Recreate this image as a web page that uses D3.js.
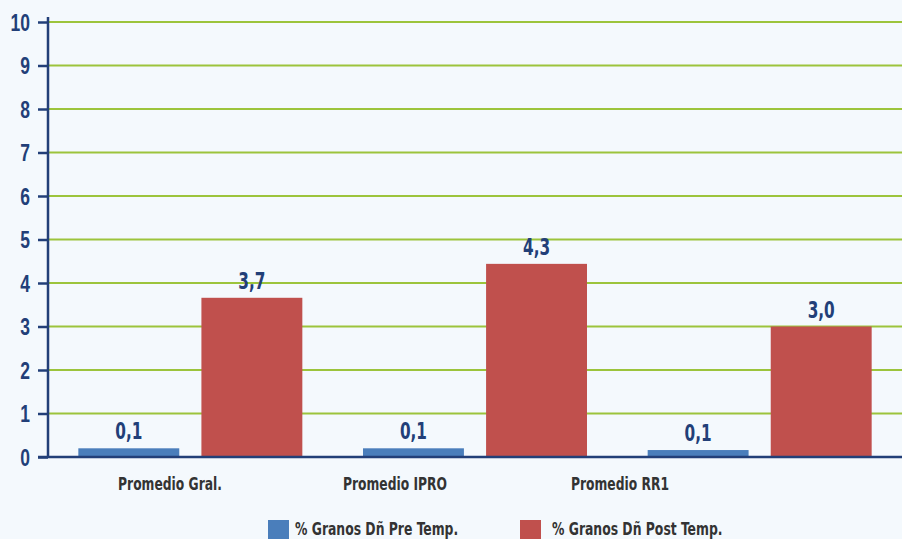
<!DOCTYPE html>
<html>
<head>
<meta charset="utf-8" />
<title>Granos Dñ</title>
<script src="https://d3js.org/d3.v7.min.js"></script>
<style>
	body { margin: 0; background: #f4f9fd; }
	svg { display: block; font-family: 'Liberation Sans Narrow', 'DejaVu Sans Condensed', sans-serif; font-stretch: condensed; font-weight: bold; }
	.ytick text { fill: #223f78; font-size: 23px; }
	.val { fill: #223f78; font-size: 23px; }
	.cat { fill: #333; font-size: 18.5px; }
	.leg { fill: #333; font-size: 18.5px; }
</style>
</head>
<body>
<script>
// data
var categories = ["Promedio Gral.", "Promedio IPRO", "Promedio RR1"];
var series = ["% Granos Dñ Pre Temp.", "% Granos Dñ Post Temp."];
var preValues = [0.2, 0.2, 0.16];
var postValues = [3.66, 4.44, 3.0];
var preLabels = ["0,1", "0,1", "0,1"];
var postLabels = ["3,7", "4,3", "3,0"];
var yTicks = [0, 1, 2, 3, 4, 5, 6, 7, 8, 9, 10];
var colors = ["#4a7ebb", "#c0504d"];

(function() {
var width = 902, height = 539;
var svg = d3.select("body").append("svg")
	.attr("width", width)
	.attr("height", height);

var mLeft = 48, mRight = 902, mTop = 22, mBottom = 457;

var y = d3.scaleLinear().domain([0, 10]).range([mBottom, mTop]);
var x0 = d3.scaleBand().domain(categories).range([mLeft, mRight]);
var x1 = d3.scaleBand().domain(series).range([x0.bandwidth() / 2 - 112, x0.bandwidth() / 2 + 112]).paddingInner(0.18);
// the category labels sit off the bar groups in the original
var xLab = d3.scalePoint().domain(categories).range([170, 620]);

// narrow the glyphs, the original uses a condensed face
function squeeze(sel, k) {
	sel.each(function() {
		var t = d3.select(this);
		var tx = +t.attr("x") || 0, ty = +t.attr("y") || 0;
		t.attr("x", null).attr("y", null)
			.attr("transform", "translate(" + tx + "," + ty + ") scale(" + k + ",1)");
	});
}

// grid
svg.append("g").selectAll("line")
	.data(yTicks.filter(function(d) { return d > 0; }))
	.enter().append("line")
	.attr("x1", mLeft).attr("x2", mRight)
	.attr("y1", function(d) { return y(d); })
	.attr("y2", function(d) { return y(d); })
	.attr("stroke", "#9cc43c")
	.attr("stroke-width", 2.2);

// bars
var rows = categories.map(function(c, i) {
	return { cat: c, vals: [
		{ s: series[0], v: preValues[i], lab: preLabels[i], c: colors[0] },
		{ s: series[1], v: postValues[i], lab: postLabels[i], c: colors[1] }
	] };
});

var grp = svg.append("g").selectAll("g")
	.data(rows).enter().append("g")
	.attr("transform", function(d) { return "translate(" + x0(d.cat) + ",0)"; });

grp.selectAll("rect")
	.data(function(d) { return d.vals; })
	.enter().append("rect")
	.attr("x", function(d) { return x1(d.s); })
	.attr("width", x1.bandwidth())
	.attr("y", function(d) { return y(d.v); })
	.attr("height", function(d) { return mBottom - y(d.v); })
	.attr("fill", function(d) { return d.c; });

grp.selectAll("text")
	.data(function(d) { return d.vals; })
	.enter().append("text")
	.attr("class", "val")
	.attr("text-anchor", "middle")
	.attr("x", function(d) { return x1(d.s) + x1.bandwidth() / 2; })
	.attr("y", function(d) { return y(d.v) - 9; })
	.text(function(d) { return d.lab; })
	.call(squeeze, 0.74);

// y axis
var yAxis = d3.axisLeft(y).tickValues(yTicks).tickSize(10).tickPadding(8).tickFormat(d3.format("d"));
var ag = svg.append("g")
	.attr("class", "ytick")
	.attr("transform", "translate(" + mLeft + ",0)")
	.call(yAxis);
ag.select(".domain").remove();
ag.selectAll(".tick line").attr("stroke", "#223f78").attr("stroke-width", 2.5);
ag.selectAll(".tick text").attr("dy", "0.36em").call(squeeze, 0.76);
svg.append("line")
	.attr("x1", mLeft).attr("x2", mLeft)
	.attr("y1", mTop - 5).attr("y2", mBottom + 1)
	.attr("stroke", "#223f78").attr("stroke-width", 2.5);
svg.append("line")
	.attr("x1", mLeft - 10).attr("x2", mRight)
	.attr("y1", mBottom).attr("y2", mBottom)
	.attr("stroke", "#223f78").attr("stroke-width", 2.5);

// category labels
svg.append("g").selectAll("text")
	.data(categories).enter().append("text")
	.attr("class", "cat")
	.attr("text-anchor", "middle")
	.attr("x", function(d) { return xLab(d); })
	.attr("y", 490)
	.text(function(d) { return d; })
	.call(squeeze, 0.74);

// legend
var legX = d3.scalePoint().domain(series).range([268, 520]);
var leg = svg.append("g").selectAll("g")
	.data(series).enter().append("g")
	.attr("transform", function(d) { return "translate(" + legX(d) + ",520)"; });
leg.append("rect")
	.attr("width", 21).attr("height", 21)
	.attr("fill", function(d, i) { return colors[i]; });
leg.append("text")
	.attr("class", "leg")
	.attr("x", function(d, i) { return i ? 32 : 27; }).attr("y", 15)
	.text(function(d) { return d; })
	.call(squeeze, 0.745);
})();
</script>
</body>
</html>
